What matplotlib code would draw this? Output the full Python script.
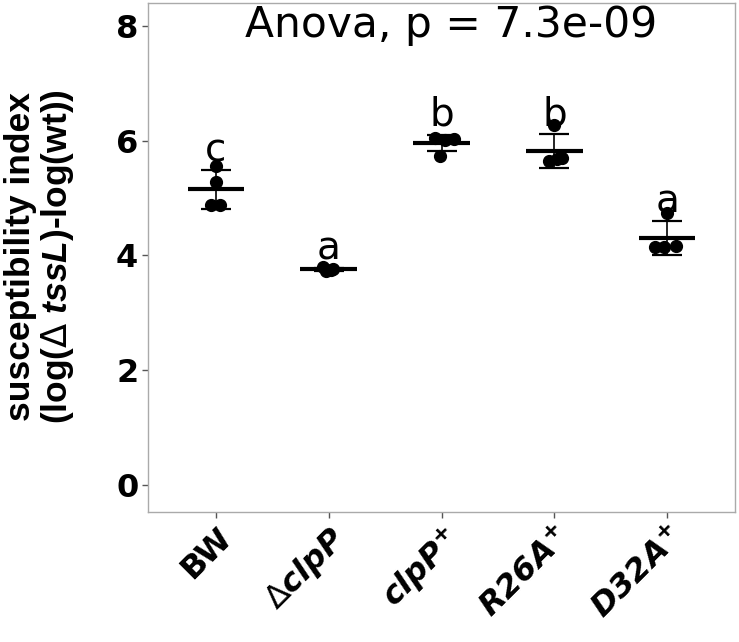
import numpy as np
import matplotlib
matplotlib.use('Agg')
import matplotlib.pyplot as plt

plt.rcParams['font.family'] = ['DejaVu Sans']
plt.rcParams['mathtext.fontset'] = 'custom'
plt.rcParams['mathtext.rm'] = 'DejaVu Sans'
plt.rcParams['mathtext.it'] = 'DejaVu Sans:italic:bold'
plt.rcParams['mathtext.bf'] = 'DejaVu Sans:bold'
plt.rcParams['mathtext.bfit'] = 'Liberation Sans:italic:bold'

# data
groups = ['BW', 'dclpP', 'clpP+', 'R26A+', 'D32A+']
tick_labels = ['BW', r'$\mathrm{\Delta}$clpP', r'clpP$^{\mathbf{+}}$',
               r'R26A$^{\mathbf{+}}$', r'D32A$^{\mathbf{+}}$']
tick_italic = [False, True, True, True, True]
bw = [5.56, 5.28, 4.88, 4.88]
dclpp = [3.80, 3.76, 3.73, 3.74]
clpp_plus = [6.05, 6.02, 6.03, 5.74]
r26a_plus = [6.27, 5.65, 5.68, 5.70]
d32a_plus = [4.74, 4.15, 4.14, 4.16]
letters = ['c', 'a', 'b', 'b', 'a']
title = 'Anova, p = 7.3e-09'

# horizontal jitter of the dots (group units)
jitter = [[0.0, 0.0, -0.04, 0.04],
          [-0.05, 0.04, -0.02, 0.02],
          [-0.06, 0.03, 0.11, -0.01],
          [0.0, -0.05, 0.02, 0.07],
          [0.0, -0.11, -0.03, 0.08]]

values = [bw, dclpp, clpp_plus, r26a_plus, d32a_plus]

fig = plt.figure(figsize=(7.39, 6.42), dpi=100)
ax = fig.add_axes([148 / 739, 1 - 512 / 642, 587 / 739, 509 / 642])

for i, vals in enumerate(values):
    x = i + 1
    v = np.array(vals)
    m = v.mean()
    sd = v.std(ddof=1)
    ax.plot([x] * len(v) + np.array(jitter[i]), v, 'o', color='black', ms=8.5, zorder=3)
    ax.errorbar(x, m, yerr=sd, color='black', capsize=11, capthick=1.6, elinewidth=1.2, zorder=2)
    ax.plot([x - 0.25, x + 0.25], [m, m], color='black', lw=3, solid_capstyle='butt', zorder=4)
    ax.text(x, m + sd + 0.15, letters[i], ha='center', va='baseline', fontsize=28)

fig.text(451 / 739, 1 - 37 / 642, title, ha='center', va='baseline', fontsize=30.5)

ax.set_xlim(0.4, 5.6)
ax.set_ylim(-0.47, 8.40)
ax.set_yticks([0, 2, 4, 6, 8])
ax.set_xticks(range(1, 6))
ax.set_xticklabels(tick_labels, rotation=45, ha='right', va='top', rotation_mode='anchor',
                   fontsize=23, fontweight='bold')
for lab, it in zip(ax.get_xticklabels(), tick_italic):
    if it:
        lab.set_fontstyle('italic')
for lab in ax.get_yticklabels():
    lab.set_fontsize(23)
    lab.set_fontweight('bold')
ax.tick_params(axis='both', color='#555555', length=4, width=1, pad=3)
for s in ax.spines.values():
    s.set_color('#aaaaaa')
    s.set_linewidth(1)
ax.grid(False)

fig.text(40 / 739, 1 - 257 / 642,
         'susceptibility index\n' + r'(log($\mathrm{\Delta}$ $\mathbfit{tssL}$)-log(wt))',
         rotation=90, ha='center', va='center', multialignment='center',
         fontsize=25.5, fontweight='bold', linespacing=1.05, family='Liberation Sans')

fig.savefig('out.png', dpi=100)
